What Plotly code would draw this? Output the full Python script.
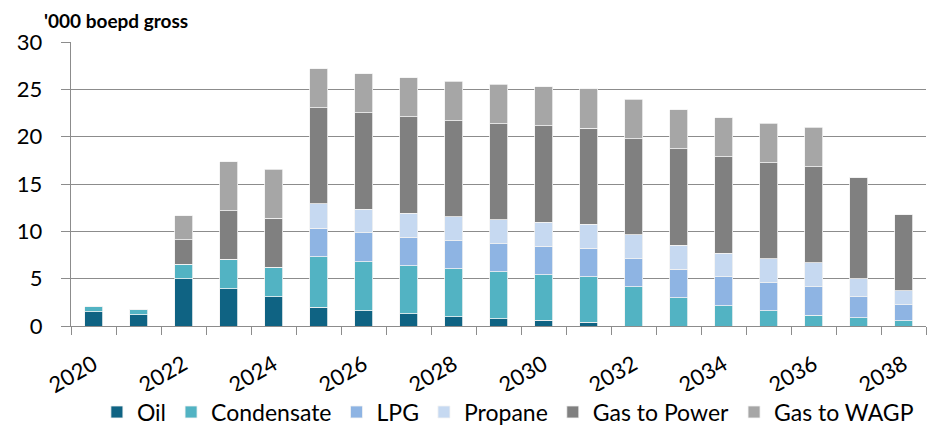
import plotly.graph_objects as go

years = [str(y) for y in range(2020, 2039)]
tick_text = [y if int(y) % 2 == 0 else "" for y in years]

oil =        [1.5, 1.2, 5.0, 3.95, 3.1, 2.0, 1.6, 1.27, 1.0, 0.78, 0.6, 0.42, 0, 0, 0, 0, 0, 0, 0]
condensate = [0.55, 0.55, 1.5, 3.1, 3.1, 5.3, 5.2, 5.1, 5.03, 4.96, 4.82, 4.79, 4.15, 3.0, 2.15, 1.62, 1.16, 0.85, 0.56]
lpg =        [0, 0, 0, 0, 0, 3.05, 3.07, 3.03, 2.96, 2.96, 3.03, 3.0, 2.96, 3.02, 3.03, 2.96, 3.0, 2.25, 1.69]
propane =    [0, 0, 0, 0, 0, 2.55, 2.46, 2.5, 2.57, 2.53, 2.5, 2.54, 2.54, 2.5, 2.53, 2.53, 2.54, 1.9, 1.48]
gas_power =  [0, 0, 2.6, 5.15, 5.17, 10.15, 10.18, 10.18, 10.14, 10.14, 10.18, 10.16, 10.14, 10.21, 10.18, 10.14, 10.14, 10.7, 8.03]
gas_wagp =   [0, 0, 2.57, 5.15, 5.17, 4.1, 4.12, 4.12, 4.16, 4.19, 4.15, 4.13, 4.15, 4.12, 4.11, 4.16, 4.16, 0, 0]

series = [
    ("Oil", oil, "#0F6383"),
    ("Condensate", condensate, "#52B3C3"),
    ("LPG", lpg, "#8EB4E3"),
    ("Propane", propane, "#C6D9F1"),
    ("Gas to Power", gas_power, "#808080"),
    ("Gas to WAGP", gas_wagp, "#A6A6A6"),
]

FONT = "Lato, 'Open Sans', sans-serif"
AXIS_COL = "#8C8C8C"

fig = go.Figure()
for name, vals, col in series:
    fig.add_trace(go.Bar(
        x=years, y=vals, name=name,
        marker=dict(color=col, line=dict(color="#F2F2F2", width=0.8)),
    ))

# the page body adds an 8px offset, so the layout is shifted up/left by 8px
fig.update_layout(
    barmode="stack",
    bargap=0.6,
    width=945, height=428,
    margin=dict(l=63, r=27, t=34, b=110, autoexpand=False),
    plot_bgcolor="white",
    paper_bgcolor="white",
    font=dict(family=FONT, color="black"),
    legend=dict(
        orientation="h",
        xref="container", yref="container",
        x=0.529, xanchor="center", y=0.056, yanchor="middle",
        font=dict(size=23), traceorder="normal", itemwidth=30,
    ),
    annotations=[dict(
        text="<b>'000 boepd gross</b>", xref="paper", yref="paper",
        x=-0.034, y=1.074, xanchor="left", yanchor="middle", showarrow=False,
        font=dict(size=19, family=FONT),
    )],
)

fig.update_yaxes(
    range=[0, 30], dtick=5, automargin=False,
    showgrid=True, gridcolor=AXIS_COL, gridwidth=1.4,
    showline=True, linecolor=AXIS_COL, linewidth=1.4,
    ticks="outside", ticklen=9, tickcolor=AXIS_COL, tickwidth=1.4,
    tickfont=dict(size=22), ticklabelstandoff=14,
    zeroline=False,
)
fig.update_xaxes(
    type="category", automargin=False,
    tickmode="array", tickvals=years, ticktext=tick_text,
    tickangle=-30, tickfont=dict(size=22), ticklabelstandoff=16,
    ticks="outside", tickson="boundaries", ticklen=8,
    tickcolor=AXIS_COL, tickwidth=1.4,
    showline=True, linecolor=AXIS_COL, linewidth=1.4,
    showgrid=False,
)

fig.write_html("out.html")
